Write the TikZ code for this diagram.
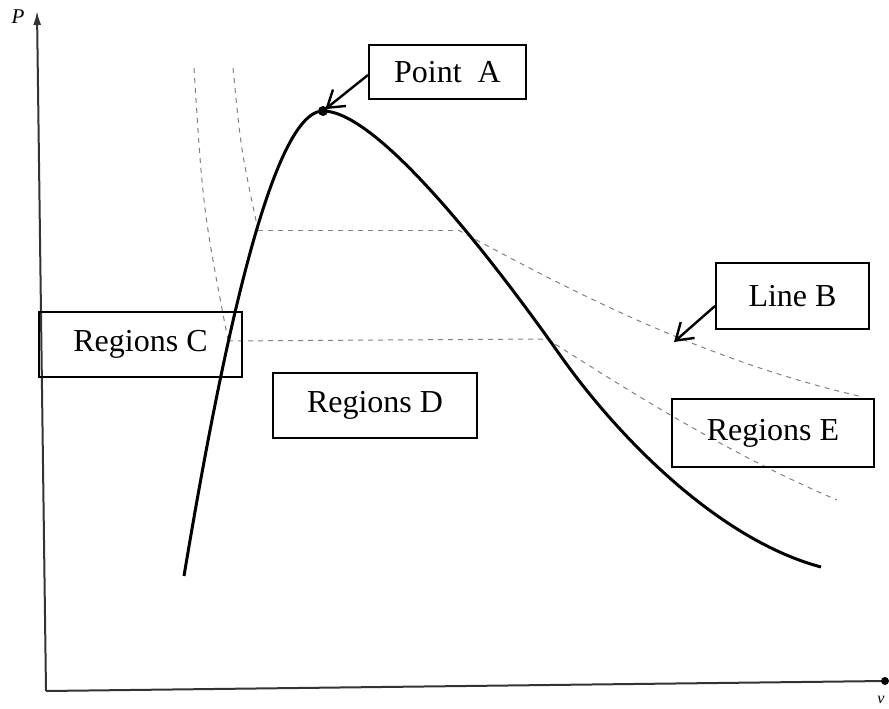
\documentclass[tikz,border=0pt]{standalone}
\usepackage{fontspec}
\setmainfont{Liberation Serif}
\usetikzlibrary{arrows.meta}
\begin{document}
\begin{tikzpicture}[x=1pt,y=-1pt,
  box/.style={draw, line width=2pt, inner sep=0pt, font=\fontsize{32}{36}\selectfont},
  axis/.style={line width=2pt, black!80},
  curve/.style={line width=3pt},
  guide/.style={black!50, line width=1pt, dash pattern=on 5pt off 5pt},
  ptr/.style={line width=2.4pt, -{Straight Barb[length=16pt,width=21pt,line width=2.4pt]}}]
\useasboundingbox (0,0) rectangle (889,709);
% axes
\coordinate (o) at (46,691);
\coordinate (ytop) at (37,11);
\coordinate (xend) at (885,681);
\draw[axis, -{Latex[length=14pt,width=8pt]}] (o) -- (ytop);
\draw[axis] (o) -- (xend);
\fill (xend) circle (4pt);
\node[font=\fontsize{21}{24}\selectfont\itshape] (plab) at (18,17) {P};
\node[font=\fontsize{16}{18}\selectfont\itshape] (vlab) at (881,700) {v};
% guides
\draw[guide] (194,68) .. controls (203,210) .. (228,340);
\draw[guide] (233,68) .. controls (241,150) .. (258,230);
\draw[guide] (258,230) -- (458,230);
\draw[guide] (228,341) -- (547,339);
\draw[guide] (458,230) .. controls (560,285) and (700,360) .. (863,397);
\draw[guide] (547,339) .. controls (620,385) and (720,450) .. (837,500);
% main curve
\draw[curve] (184,576) .. controls (215,390) and (268,111) .. (323,111)
  .. controls (380,111) and (500,270) .. (560,355)
  .. controls (620,440) and (720,540) .. (821,567);
\coordinate (A) at (323,111);
\fill (A) circle (5pt);
\coordinate (bt) at (674,342);
% boxes
\node[box, minimum width=157pt, minimum height=54pt] (pa) at (447.5,72) {Point~~A};
\node[box, minimum width=153pt, minimum height=66pt] (lb) at (792.5,296) {Line B};
\node[box, minimum width=203pt, minimum height=65pt] (rc) at (140.5,344.5) {Regions C};
\node[box, minimum width=204pt, minimum height=65pt] (rd) at (375,405.5) {Regions D};
\node[box, minimum width=202pt, minimum height=68pt] (re) at (773,433) {Regions E};
% pointers
\draw[ptr, shorten >=3pt] ([yshift=-3pt]pa.west) -- (A);
\draw[ptr] ([yshift=-10pt]lb.west) -- (bt);
\end{tikzpicture}
\end{document}
